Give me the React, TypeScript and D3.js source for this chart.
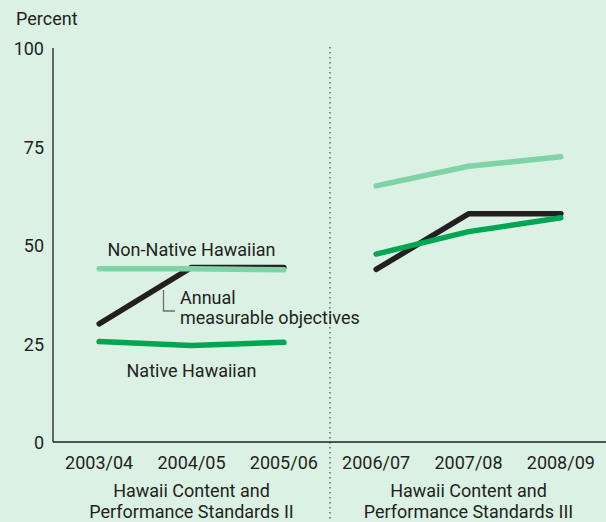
import React from "react";
import * as d3 from "d3";

const years = ["2003/04", "2004/05", "2005/06", "2006/07", "2007/08", "2008/09"];
const yTicks = [0, 25, 50, 75, 100];
const periodLabels = [
  ["Hawaii Content and", "Performance Standards II"],
  ["Hawaii Content and", "Performance Standards III"],
];
// values per period (first period: years 0-2, second: years 3-5)
const amoP1 = [30, 44.3, 44.3];
const amoP2 = [43.8, 57.9, 57.9];
const nonNativeP1 = [44, 44, 43.7];
const nonNativeP2 = [65, 70, 72.4];
const nativeP1 = [25.5, 24.5, 25.3];
const nativeP2 = [47.7, 53.4, 56.9];

const W = 606;
const H = 522;
const BG = "#DAF1E4";
const INK = "#231F20";
const LIGHT = "#7ED3A7";
const GREEN = "#00A651";
const FONT = "Roboto, 'Open Sans', sans-serif";

export default function App() {
  const x = d3.scaleBand<string>().domain(years).range([53, 607]).padding(0);
  const y = d3.scaleLinear().domain([0, 100]).range([442, 48]);
  const cx = (yr: string) => (x(yr) as number) + x.bandwidth() / 2;
  const line = d3
    .line<[string, number]>()
    .x((d) => cx(d[0]))
    .y((d) => y(d[1]));
  const seg = (vals: number[], start: number) =>
    line(vals.map((v, i) => [years[start + i], v] as [string, number])) || "";

  const series = [
    { vals: [amoP1, amoP2], color: INK },
    { vals: [nonNativeP1, nonNativeP2], color: LIGHT },
    { vals: [nativeP1, nativeP2], color: GREEN },
  ];

  const divX = x(years[3]) as number;
  const x0 = 53;

  return (
    <svg
      width={W}
      height={H}
      style={{ position: "absolute", left: 0, top: 0, background: BG }}
      fontFamily={FONT}
      fontSize={18}
      fill={INK}
    >
      <rect x={0} y={0} width={W} height={H} fill={BG} />
      <text x={16} y={25}>Percent</text>
      {yTicks.map((t) => (
        <text key={t} x={44} y={y(t) + 7} textAnchor="end">
          {t}
        </text>
      ))}
      {/* divider */}
      <line
        x1={divX}
        x2={divX}
        y1={47}
        y2={H}
        stroke="#555"
        strokeWidth={1.3}
        strokeDasharray="1.5 3.5"
      />
      {/* axes */}
      <line x1={x0} x2={x0} y1={y(100)} y2={y(0)} stroke={INK} strokeWidth={1.3} />
      <line x1={x0} x2={W} y1={y(0)} y2={y(0)} stroke={INK} strokeWidth={1.3} />
      {years.map((yr) => (
        <text key={yr} x={cx(yr)} y={469} textAnchor="middle">
          {yr}
        </text>
      ))}
      {periodLabels.map((lines, gi) => (
        <text key={gi} x={cx(years[gi * 3 + 1])} textAnchor="middle">
          {lines.map((l, li) => (
            <tspan key={li} x={cx(years[gi * 3 + 1])} y={497 + li * 21}>
              {l}
            </tspan>
          ))}
        </text>
      ))}
      {/* lines */}
      {series.map((s, si) =>
        s.vals.map((v, pi) => (
          <path
            key={`${si}-${pi}`}
            d={seg(v, pi * 3)}
            fill="none"
            stroke={s.color}
            strokeWidth={5.5}
            strokeLinecap="round"
            strokeLinejoin="round"
          />
        ))
      )}
      {/* annotations */}
      <text x={cx(years[1])} y={256} textAnchor="middle">Non-Native Hawaiian</text>
      <text x={cx(years[1])} y={377} textAnchor="middle">Native Hawaiian</text>
      <path d="M163.5,290 V311 H175" fill="none" stroke="#6D6E71" strokeWidth={1.3} />
      <text x={180} y={304}>Annual</text>
      <text x={180} y={324}>measurable objectives</text>
    </svg>
  );
}
